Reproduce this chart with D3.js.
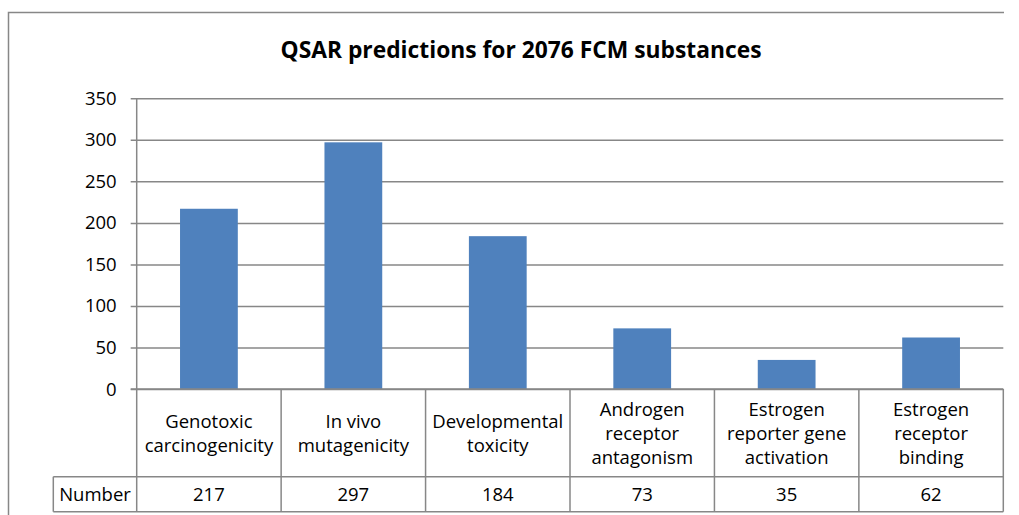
<!DOCTYPE html>
<html>
<head>
<meta charset="utf-8">
<script src="https://cdn.jsdelivr.net/npm/d3@7"></script>
<style>
  html, body { margin: 0; padding: 0; background: #fff; }
  svg { display: block; }
  text { font-family: "Open Sans", sans-serif; fill: #000; }
</style>
</head>
<body>
<svg id="chart" width="1019" height="515"></svg>
<script>
const title = "QSAR predictions for 2076 FCM substances";
const categories = [
  ["Genotoxic", "carcinogenicity"],
  ["In vivo", "mutagenicity"],
  ["Developmental", "toxicity"],
  ["Androgen", "receptor", "antagonism"],
  ["Estrogen", "reporter gene", "activation"],
  ["Estrogen", "receptor", "binding"]
];
const values = [217, 297, 184, 73, 35, 62];
const yTicks = [0, 50, 100, 150, 200, 250, 300, 350];
const rowLabel = "Number";

(function () {
const svg = d3.select("#chart");
const gridColor = "#878787";
const barColor = "#4F81BD";

const pLeft = 136.7, pRight = 1003.3, pTop = 98.3, pBottom = 389;
const catRowBottom = 476.7, numRowBottom = 511.7, labelLeft = 53.3;
const fs = 18.5;

const keys = categories.map((d, i) => i);
const col = d3.scaleBand().domain(keys).range([pLeft, pRight]).padding(0);
const bar = d3.scaleBand().domain(keys).range([pLeft, pRight]).paddingInner(0.6).paddingOuter(0.3);
const y = d3.scaleLinear().domain([0, 350]).range([pBottom, pTop]);

svg.append("path")
  .attr("d", `M8.5,515 V12.5 H1004`)
  .attr("fill", "none").attr("stroke", gridColor).attr("stroke-width", 1.5);

svg.append("text").attr("x", 521).attr("y", 58)
  .attr("text-anchor", "middle").attr("font-weight", "bold").attr("font-size", 22.8)
  .text(title);

const yAxis = d3.axisLeft(y).tickValues(yTicks).tickSize(-(pRight - pLeft)).tickSizeOuter(0).tickPadding(20)
  .tickFormat(d3.format("d"));
const gy = svg.append("g").attr("transform", `translate(${pLeft},0)`).call(yAxis);
gy.select(".domain").remove();
gy.selectAll(".tick line").attr("stroke", gridColor).attr("stroke-width", 1.5).attr("x1", -6);
gy.selectAll(".tick text").attr("font-size", fs).attr("font-family", "Open Sans, sans-serif").attr("fill", "#000")
  .attr("dy", null).attr("y", 6);

svg.append("g").selectAll("rect").data(values).join("rect")
  .attr("x", (d, i) => bar(i)).attr("width", bar.bandwidth())
  .attr("y", d => y(d)).attr("height", d => y(0) - y(d))
  .attr("fill", barColor);

const lines = svg.append("g").attr("stroke", gridColor).attr("stroke-width", 1.5).attr("fill", "none");
lines.append("line").attr("x1", pLeft - 6).attr("x2", pRight).attr("y1", pBottom).attr("y2", pBottom);
lines.append("line").attr("x1", labelLeft).attr("x2", pRight).attr("y1", catRowBottom).attr("y2", catRowBottom);
lines.append("line").attr("x1", labelLeft).attr("x2", pRight).attr("y1", numRowBottom).attr("y2", numRowBottom);
lines.append("line").attr("x1", labelLeft).attr("x2", labelLeft).attr("y1", catRowBottom).attr("y2", numRowBottom);
lines.append("line").attr("x1", pLeft).attr("x2", pLeft).attr("y1", pTop).attr("y2", numRowBottom);
keys.forEach(i => {
  const x = col(i) + col.bandwidth();
  lines.append("line").attr("x1", x).attr("x2", x).attr("y1", pBottom).attr("y2", numRowBottom);
});

const lh = 24;
const catMid = (pBottom + catRowBottom) / 2;
categories.forEach((lns, i) => {
  const cx = col(i) + col.bandwidth() / 2;
  const t = svg.append("text").attr("text-anchor", "middle").attr("font-size", fs);
  lns.forEach((l, j) => {
    t.append("tspan").attr("x", cx)
      .attr("y", catMid + 7 + (j - (lns.length - 1) / 2) * lh)
      .text(l);
  });
});

const numMid = (catRowBottom + numRowBottom) / 2;
svg.append("text").attr("x", (labelLeft + pLeft) / 2).attr("y", numMid + 7)
  .attr("text-anchor", "middle").attr("font-size", fs).text(rowLabel);
values.forEach((v, i) => {
  svg.append("text").attr("x", col(i) + col.bandwidth() / 2).attr("y", numMid + 7)
    .attr("text-anchor", "middle").attr("font-size", fs).text(v);
});
})();
</script>
</body>
</html>
